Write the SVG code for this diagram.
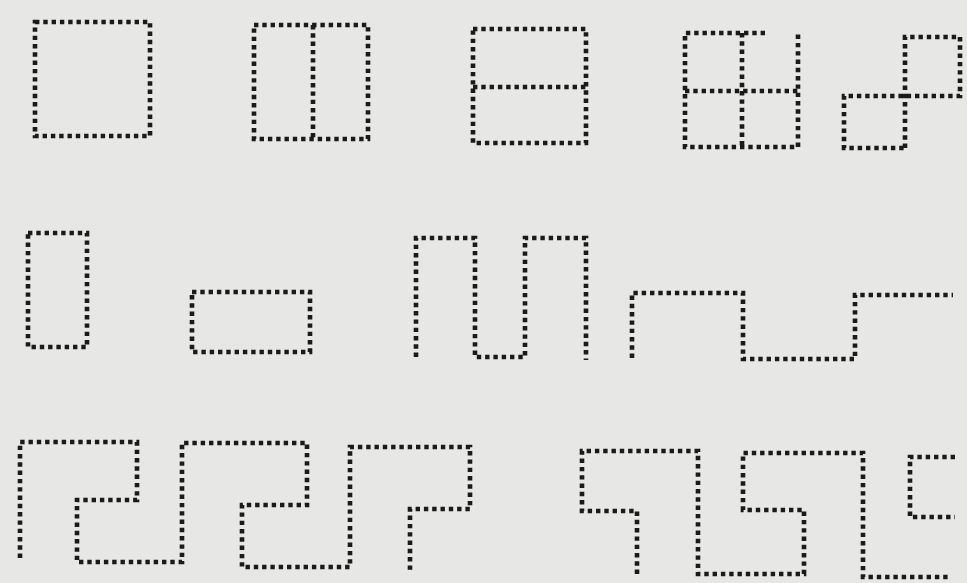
<svg xmlns="http://www.w3.org/2000/svg" width="967" height="583" viewBox="0 0 967 583">
<style>
.d{fill:none;stroke:#1a1a1a;stroke-width:4.6;stroke-dasharray:4.4 3.9;stroke-linejoin:miter}
</style>
<rect width="967" height="583" fill="#e7e7e5"/>
<g id="square"><path class="d" d="M35,22 H150 V136 H35 Z"/></g>
<g id="split-vertical"><path class="d" d="M254,25 H368 V139 H254 Z"/><path class="d" d="M313,25 V139"/></g>
<g id="split-horizontal"><path class="d" d="M473,29 H586 V143 H473 Z"/><path class="d" d="M473,87 H586"/></g>
<g id="window"><path class="d" d="M765,33 H685 V147 H798 V33"/><path class="d" d="M742,33 V147"/><path class="d" d="M685,91 H798"/></g>
<g id="two-squares"><path class="d" d="M905,148 V37 H960 V96 H844 V148 H905"/></g>
<g id="tall-rect"><path class="d" d="M28,233 H87 V347 H28 Z"/></g>
<g id="wide-rect"><path class="d" d="M192,292 H310 V352 H192 Z"/></g>
<g id="meander-up"><path class="d" d="M416,357 V238 H475 V357 H525 V238 H586 V360"/></g>
<g id="step"><path class="d" d="M632,358 V293 H743 V359 H855 V295 H953"/></g>
<g id="hooks-left"><path class="d" d="M20,558 V442 H137 V500 H77 V562 H182 V443 H307 V505 H242 V567 H350 V447 H470 V509 H410 V570"/></g>
<g id="hooks-right"><path class="d" d="M637,574 V511 H582 V451 H698 V574 H804 V510 H743 V453 H863 V577 H948"/></g>
<g id="bracket"><path class="d" d="M955,457 H910 V517 H955"/></g>
</svg>
